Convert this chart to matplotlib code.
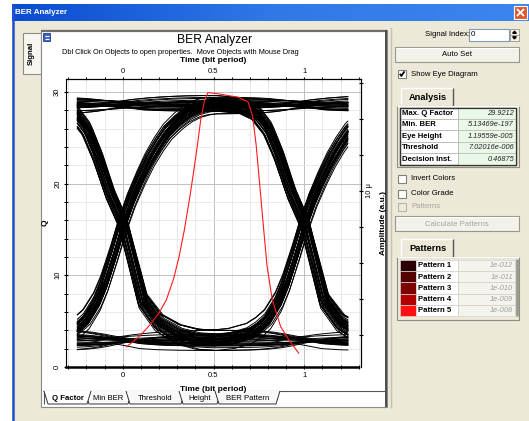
import numpy as np
import matplotlib
matplotlib.use('Agg')
import matplotlib.pyplot as plt
from matplotlib.patches import Rectangle, Polygon
from matplotlib.ticker import MultipleLocator, FixedLocator

plt.rcParams['font.family'] = ['Liberation Sans', 'DejaVu Sans']

W, H = 529, 421

# eye diagram source: bit stream, per-bit levels (Q units), edge jitter (bit periods)
bit_stream = ("01101001110100010110111001001011"
              "00111000101101001110110010100011"
              "10010110100011101101001001110010"
              "11100010110011010001101110010110")
high_levels = [28.6, 28.2, 29.1, 28.8, 27.9, 28.5, 29.4, 28.3, 28.9, 28.0, 29.2, 28.7,
               28.4, 29.6, 28.1, 28.8, 27.6, 29.0, 28.5, 28.3, 29.3, 28.6, 28.0]
low_levels = [2.8, 3.3, 2.4, 3.0, 3.6, 2.6, 2.9, 2.1, 3.4, 2.7, 3.1, 1.8, 3.5, 2.5,
              3.0, 2.8, 4.0, 2.3, 3.2, 2.6, 2.9]
edge_jitter = [0.0, 0.014, -0.011, 0.022, -0.018, 0.006, -0.024, 0.01, 0.027, -0.004,
               -0.015, 0.017, -0.008, 0.02, -0.027, 0.003, 0.012, -0.02, 0.008]

# rising edge: fraction of the swing vs time from the bit boundary
rise_t = [-0.5, -0.4, -0.3, -0.25, -0.2, -0.14, -0.1, -0.05, 0.0, 0.05, 0.1, 0.15,
          0.2, 0.25, 0.31, 0.36, 0.41, 0.46, 0.5]
rise_r = [0.0, 0.008, 0.03, 0.055, 0.09, 0.165, 0.24, 0.36, 0.49, 0.6, 0.69, 0.77,
          0.835, 0.89, 0.935, 0.965, 0.985, 0.996, 1.0]
# falling edge: fraction of the drop vs time from the bit boundary
fall_t = [-0.5, -0.35, -0.27, -0.2, -0.14, -0.07, 0.0, 0.05, 0.11, 0.2, 0.3, 0.4, 0.5]
fall_d = [0.0, 0.01, 0.04, 0.11, 0.22, 0.38, 0.5, 0.65, 0.835, 0.93, 0.975, 0.995, 1.0]

# Q factor across the bit slot
q_time = [0.02, 0.06, 0.10, 0.15, 0.20, 0.24, 0.28, 0.31, 0.34, 0.37, 0.39, 0.41,
          0.43, 0.45, 0.46875, 0.52, 0.58, 0.64, 0.69, 0.715, 0.735, 0.755, 0.775,
          0.795, 0.824, 0.87, 0.92, 0.97]
q_vals = [2.2, 2.8, 3.5, 4.6, 5.9, 7.3, 9.6, 12.0, 15.0, 18.6, 21.2, 24.0, 27.0,
          29.0, 29.92, 29.8, 29.6, 29.4, 28.9, 27.4, 24.2, 19.8, 15.3, 11.0, 7.3,
          4.4, 2.8, 1.5]

time_ticks = [0, 0.5, 1]
time_labels = ['0', '0.5', '1']
q_ticks = [0, 10, 20, 30]
amp_ticks = [10e-6]
amp_labels = ['10 \u03bc']

analysis_names = ['Max. Q Factor', 'Min. BER', 'Eye Height', 'Threshold', 'Decision Inst.']
analysis_values = ['29.9212', '5.13469e-197', '1.19559e-005', '7.02016e-006', '0.46875']

pattern_names = ['Pattern 1', 'Pattern 2', 'Pattern 3', 'Pattern 4', 'Pattern 5']
pattern_values = ['1e-012', '1e-011', '1e-010', '1e-009', '1e-008']
pattern_colors = ['#2a0000', '#520000', '#7e0000', '#b40000', '#ff1010']

tab_names = ['Q Factor', 'Min BER', 'Threshold', 'Height', 'BER Pattern']

BEIGE = '#ECE9D8'

fig = plt.figure(figsize=(W / 100, H / 100), dpi=100)
fig.patch.set_facecolor('white')

ax_bg = fig.add_axes([0, 0, 1, 1], zorder=0)
ax_bg.set_xlim(0, W)
ax_bg.set_ylim(H, 0)
ax_bg.axis('off')


def box(x0, y0, x1, y1, fc='none', ec='none', lw=0.8, z=1):
    ax_bg.add_patch(Rectangle((x0, y0), x1 - x0, y1 - y0, facecolor=fc,
                              edgecolor=ec, lw=lw, zorder=z))


def line(xs, ys, color, lw=0.8, z=2):
    ax_bg.plot(xs, ys, color=color, lw=lw, zorder=z, solid_capstyle='butt')


def label(x, y, s, size=5.6, ha='left', z=3, **kw):
    ax_bg.text(x, y, s, fontsize=size, ha=ha, va='center', zorder=z, **kw)


def button(x0, y0, x1, y1, text, enabled=True):
    box(x0, y0, x1, y1, fc='#F2F1EA', ec='#9a988c', lw=0.8)
    line([x0 + 1, x1 - 1], [y0 + 1, y0 + 1], 'white', 0.8)
    label((x0 + x1) / 2, (y0 + y1) / 2 + 0.5, text, ha='center',
          color='black' if enabled else '#a8a69c')


def checkbox(x, y, text, checked=False, enabled=True):
    box(x, y - 4, x + 8, y + 4, fc='white' if enabled else BEIGE,
        ec='#808080' if enabled else '#b8b6aa', lw=0.8)
    if checked:
        line([x + 1.8, x + 3.4, x + 6.4], [y - 0.2, y + 2.0, y - 2.6], 'black', 1.3, z=3)
    label(x + 13, y, text, color='black' if enabled else '#a8a69c')


def tab(x0, x1, y0, y1, text):
    box(x0, y0, x1, y1, fc=BEIGE, ec='none')
    line([x0, x0, x1 - 1], [y1, y0, y0], 'white', 1.0)
    line([x1 - 1, x1 - 1], [y0, y1], '#555555', 1.0)
    label((x0 + x1) / 2, (y0 + y1) / 2 + 0.5, text, ha='center', size=6.7,
          fontweight='bold')


# window chrome
box(12, 4, W + 2, H + 2, fc=BEIGE, z=0.5)
grad = np.linspace(0, 1, 256).reshape(1, -1)
ax_bg.imshow(grad, extent=[12, W, 21, 4], aspect='auto', zorder=1,
             cmap=matplotlib.colors.LinearSegmentedColormap.from_list(
                 'bar', ['#0A4CD0', '#2F78E8', '#3C86EE']))
label(15, 12.5, 'BER Analyzer', size=5.8, color='white', fontweight='bold')
box(514, 6, 527, 19, fc='#DE5A2E', ec='white', lw=0.8, z=2)
line([517, 524], [9, 16], 'white', 1.3, z=3)
line([517, 524], [16, 9], 'white', 1.3, z=3)
line([12.8, 12.8], [4, H], '#1E4FD0', 1.8, z=2)

# left "Signal" tab
box(23, 33, 41, 74, fc='#F7F6F0', ec='#8f8d82', lw=0.8)
ax_bg.text(31.5, 53, 'Signal', rotation=90, fontsize=5.6, fontweight='bold',
           ha='center', va='center', zorder=3)

# plot panel
box(41, 30, 387, 407, fc='white', ec='#8a8a8a', lw=0.8)
line([41, 387], [30.8, 30.8], '#6e6e6e', 1.6)
line([386.4, 386.4], [30, 407], '#4a4a4a', 1.4)
line([390.5, 390.5], [27, 408], '#c5c2b2', 1.0)
box(43, 33, 50, 41, fc='#3a62c8', ec='#203c90', lw=0.6, z=2)
line([44.5, 48.5], [35.5, 35.5], 'white', 0.8, z=3)
line([44.5, 48.5], [38.5, 38.5], 'white', 0.8, z=3)
label(215, 40.5, 'BER Analyzer', size=8.7, ha='center')
label(62, 53, 'Dbl Click On Objects to open properties.  Move Objects with Mouse Drag',
      size=5.3)

# bottom tab strip
line([43, 385], [391, 391], '#555555', 0.8)
tab_edges = [(47, 88), (88, 129), (129, 182), (182, 218), (218, 277)]
for i, ((xa, xb), name) in enumerate(zip(tab_edges, tab_names)):
    ax_bg.add_patch(Polygon([(xa - 3, 391), (xa + 1, 404), (xb - 1, 404), (xb + 3, 391)],
                            closed=False, facecolor='white' if i == 0 else '#F8F8F8',
                            edgecolor='#333333', lw=0.7, zorder=2 + (i == 0)))
    label((xa + xb) / 2, 398, name, size=5.6, ha='center', z=4,
          fontweight='bold' if i == 0 else 'normal')
line([44, 44], [391, 404], '#555555', 0.8)

# right control panel
label(470, 35, 'Signal Index:', size=5.6, ha='right')
box(469, 29, 509, 41, fc='white', ec='#7f9db9', lw=0.8)
label(471, 35, '0', size=5.8)
box(510, 29, 519, 35, fc='#F2F1EA', ec='#9a988c', lw=0.6)
box(510, 35, 519, 41, fc='#F2F1EA', ec='#9a988c', lw=0.6)
ax_bg.add_patch(Polygon([(512.7, 33.3), (516.3, 33.3), (514.5, 31.2)], color='black', zorder=3))
ax_bg.add_patch(Polygon([(512.7, 36.8), (516.3, 36.8), (514.5, 38.9)], color='black', zorder=3))
button(395, 47, 519, 62, 'Auto Set')
checkbox(398, 74, 'Show Eye Diagram', checked=True)

tab(401, 454, 88, 106, 'Analysis')
box(397, 105.5, 519, 167, fc=BEIGE, ec='#8f8d82', lw=0.8)
line([397, 519], [106, 106], 'white', 0.8)
box(400, 107.5, 516, 164.5, fc='white', ec='#333333', lw=0.9)
row_h = (164.5 - 107.5) / len(analysis_names)
for i, (name, val) in enumerate(zip(analysis_names, analysis_values)):
    y0 = 107.5 + i * row_h
    box(458, y0, 516, y0 + row_h, fc='#EAF8E8', ec='#b8b8b0', lw=0.5)
    box(400, y0, 458, y0 + row_h, fc='none', ec='#b8b8b0', lw=0.5)
    label(402, y0 + row_h / 2 + 0.3, name, size=5.6, fontweight='bold')
    label(514, y0 + row_h / 2 + 0.3, val, size=5.3, ha='right', style='italic',
          color='#222222')
box(400, 107.5, 516, 164.5, fc='none', ec='#333333', lw=0.9, z=2)

checkbox(398, 178.5, 'Invert Colors')
checkbox(398, 193.5, 'Color Grade')
checkbox(398, 207, 'Patterns', enabled=False)
button(395, 216, 519, 231, 'Calculate Patterns', enabled=False)

tab(401, 454, 239, 257, 'Patterns')
box(397, 256.5, 519, 320, fc=BEIGE, ec='#8f8d82', lw=0.8)
line([397, 519], [257, 257], 'white', 0.8)
row_h = 11.2
for i, (name, val, col) in enumerate(zip(pattern_names, pattern_values, pattern_colors)):
    y0 = 260 + i * row_h
    box(400, y0, 416, y0 + row_h, fc=col, ec='#d0d0d0', lw=0.5)
    box(416, y0, 458, y0 + row_h, fc='white', ec='#d0d0d0', lw=0.5)
    box(458, y0, 515, y0 + row_h, fc='#F4F3EC', ec='#d0d0d0', lw=0.5)
    label(418, y0 + row_h / 2 + 0.3, name, size=5.6, fontweight='bold')
    label(513, y0 + row_h / 2 + 0.3, val, size=5.3, ha='right', style='italic',
          color='#a0a0a0')
line([516.5, 516.5], [259, 316], '#9a988c', 2.0)

# eye diagram axes
ax = fig.add_axes([66 / W, 1 - 367 / H, (361 - 66) / W, (367 - 79) / H], zorder=2)
ax.set_facecolor('white')
ax.set_xlim(-0.3125, 1.3125)
ax.set_ylim(0, 31.4)


def level(i):
    if bit_stream[i] == '1':
        return high_levels[i % len(high_levels)]
    return low_levels[i % len(low_levels)]


def edge(t, rising):
    if rising:
        return np.interp(t, rise_t, rise_r)
    return np.interp(t, fall_t, fall_d)


t = np.linspace(-0.25, 1.24, 300)
for k in range(1, len(bit_stream) - 1):
    lp, lc, ln = level(k - 1), level(k), level(k + 1)
    j0 = edge_jitter[k % len(edge_jitter)]
    j1 = edge_jitter[(k + 1) % len(edge_jitter)]
    v = (lp + (lc - lp) * edge(t - j0, lc >= lp)
         + (ln - lc) * edge(t - 1 - j1, ln >= lc))
    ax.plot(t, v, color='black', lw=0.7, zorder=3)

ax.plot(q_time, q_vals, color='#ff1a1a', lw=0.8, zorder=4)

ax.xaxis.set_major_locator(FixedLocator(time_ticks))
ax.set_xticklabels(time_labels)
ax.xaxis.set_minor_locator(MultipleLocator(0.1))
ax.yaxis.set_major_locator(FixedLocator(q_ticks))
ax.yaxis.set_minor_locator(MultipleLocator(2))
ax.grid(which='minor', color='#e6e6e6', lw=0.6, zorder=0)
ax.grid(which='major', color='#c0c0c0', lw=0.7, zorder=0)
ax.set_axisbelow(True)
ax.tick_params(which='major', labelsize=5.5, length=3, width=0.8, direction='inout',
               pad=2)
ax.tick_params(which='minor', length=2.5, width=0.7, direction='inout')
ax.tick_params(axis='y', labelrotation=90)
for lab in ax.get_yticklabels():
    lab.set_va('center')
ax.spines['bottom'].set_linestyle((0, (1, 1)))
ax.spines['bottom'].set_linewidth(1.8)
for side in ['left', 'top', 'right']:
    ax.spines[side].set_linewidth(0.8)
ax.set_xlabel('Time (bit period)', fontsize=6, fontweight='bold')
ax.xaxis.set_label_coords(0.5, -0.066)
ax.set_ylabel('Q', fontsize=6, fontweight='bold')
ax.yaxis.set_label_coords(-0.058, 0.5)

top = ax.secondary_xaxis('top')
top.xaxis.set_major_locator(FixedLocator(time_ticks))
top.set_xticklabels(time_labels)
top.xaxis.set_minor_locator(MultipleLocator(0.1))
top.tick_params(which='major', labelsize=5.5, length=3, width=0.8, direction='inout', pad=1.5)
top.tick_params(which='minor', length=2.5, width=0.7, direction='inout')
top.set_xlabel('Time (bit period)', fontsize=6, fontweight='bold')
top.xaxis.set_label_coords(0.5, 1.059, transform=ax.transAxes)

amp = ax.twinx()
amp.set_ylim(0.22e-6, 16.2e-6)
amp.yaxis.set_major_locator(FixedLocator(amp_ticks))
amp.set_yticklabels(amp_labels)
amp.yaxis.set_minor_locator(MultipleLocator(2e-6))
amp.tick_params(which='major', labelsize=5.5, length=3, width=0.8, direction='inout',
                pad=2, labelrotation=90)
amp.tick_params(which='minor', length=3, width=0.8, direction='inout')
for lab in amp.get_yticklabels():
    lab.set_va('center')
for side in ['left', 'top', 'bottom']:
    amp.spines[side].set_visible(False)
amp.spines['right'].set_linewidth(0.8)
amp.set_ylabel('Amplitude (a.u.)', fontsize=6, fontweight='bold', rotation=90)
amp.yaxis.set_label_coords(1.064, 0.5)

fig.savefig('out.png', dpi=100)
